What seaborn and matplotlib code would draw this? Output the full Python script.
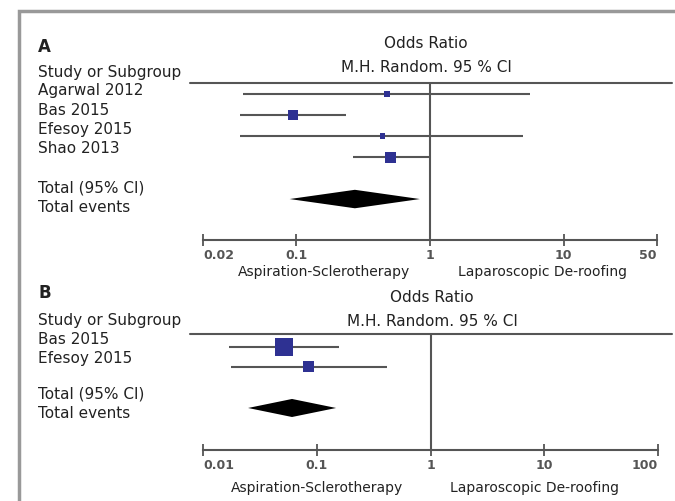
import numpy as np
import pandas as pd
import seaborn as sns
import matplotlib.pyplot as plt
from matplotlib.patches import Rectangle
from matplotlib.ticker import NullLocator

# Panel A data (odds ratio, 95% CI, weight %)
studies_a = ["Agarwal 2012", "Bas 2015", "Efesoy 2015", "Shao 2013"]
or_a = [0.48, 0.094, 0.44, 0.51]
lo_a = [0.040, 0.038, 0.038, 0.264]
hi_a = [5.6, 0.234, 4.97, 1.0]
weight_a = [12.5, 34.8, 10.5, 42.2]
total_a = [0.089, 0.274, 0.84]   # low, estimate, high
ticks_a = [0.02, 0.1, 1, 10, 50]
ticklabels_a = ["0.02", "0.1", "1", "10", "50"]

# Panel B data
studies_b = ["Bas 2015", "Efesoy 2015"]
or_b = [0.0515, 0.0846]
lo_b = [0.0169, 0.0176]
hi_b = [0.157, 0.415]
weight_b = [72.8, 27.2]
total_b = [0.0249, 0.0606, 0.148]
ticks_b = [0.01, 0.1, 1, 10, 100]
ticklabels_b = ["0.01", "0.1", "1", "10", "100"]

sns.set_style("white")
plt.rcParams['font.family'] = ['DejaVu Sans']

W, H = 675, 501
fig = plt.figure(figsize=(W / 100, H / 100), dpi=100)

line_c = "#555555"
blue = "#2e3192"
txt_c = "#222222"


def fx(x):
    return x / W


def fy(y):
    return 1 - y / H


def forest(ax, studies, est, lo, hi, weight, total, max_side, ticks, ticklabels, ylim, span):
    rows = np.arange(len(studies))
    total_row = len(studies) + 1
    df = pd.DataFrame({"est": est, "row": rows, "weight": weight})
    ax.set_xscale("log")
    ax.hlines(rows, lo, hi, color=line_c, lw=1.5, zorder=2)
    max_area = (max_side * 0.72) ** 2
    sizes = {w: max_area * w / max(weight) for w in weight}
    sns.scatterplot(data=df, x="est", y="row", size="weight", sizes=sizes, marker="s",
                    color=blue, linewidth=0, legend=False, ax=ax, zorder=3)
    # pooled diamond
    h = 0.44
    ax.fill([total[0], total[1], total[2], total[1]],
            [total_row, total_row - h, total_row, total_row + h], color="black", lw=0, zorder=3)
    ax.axvline(1, color=line_c, lw=1.5, zorder=1)
    ax.plot(span, [1, 1], transform=ax.transAxes, color=line_c, lw=1.5, clip_on=False)
    ax.set_xlim(ticks[0], ticks[-1])
    ax.set_ylim(*ylim)
    ax.set_xlabel("")
    ax.set_ylabel("")
    ax.set_yticks([])
    ax.set_xticks(ticks)
    ax.set_xticklabels(ticklabels)
    ax.xaxis.set_minor_locator(NullLocator())
    ax.tick_params(axis="x", direction="inout", length=9, width=1.3, color=line_c,
                   labelsize=9, labelcolor="#555555", pad=2, bottom=True)
    labels = ax.get_xticklabels()
    for lbl in labels:
        lbl.set_fontweight("bold")
    labels[0].set_ha("left")
    labels[-1].set_ha("right")
    sns.despine(ax=ax, left=True)
    ax.spines["bottom"].set_color(line_c)
    ax.spines["bottom"].set_linewidth(1.5)
    ax.patch.set_alpha(0)


ax_a = fig.add_axes([fx(203), fy(240), fx(657 - 203), (240 - 83) / H])
forest(ax_a, studies_a, or_a, lo_a, hi_a, weight_a, total_a, 11, ticks_a, ticklabels_a,
       (6.95, -0.524), [-0.0286, 1.033])

ax_b = fig.add_axes([fx(203), fy(450), fx(658 - 203), (450 - 334) / H])
forest(ax_b, studies_b, or_b, lo_b, hi_b, weight_b, total_b, 18, ticks_b, ticklabels_b,
       (5.05, -0.61), [-0.0286, 1.031])

# frame
fig.patches.append(Rectangle((fx(18.5), -0.1), 1.2, fy(10.5) + 0.1, transform=fig.transFigure,
                             fill=False, edgecolor="#999999", lw=2.5))

# left column texts
fs = 11
fig.text(fx(38), fy(47), "A", fontsize=12, fontweight="bold", color=txt_c, va="center")
fig.text(fx(38), fy(73), "Study or Subgroup", fontsize=fs, color=txt_c, va="center")
for i, s in enumerate(studies_a):
    fig.text(fx(38), fy(91 + i * 19.3), s, fontsize=fs, color=txt_c, va="center")
fig.text(fx(38), fy(188), "Total (95% CI)", fontsize=fs, color=txt_c, va="center")
fig.text(fx(38), fy(207), "Total events", fontsize=fs, color=txt_c, va="center")

fig.text(fx(38), fy(293), "B", fontsize=12, fontweight="bold", color=txt_c, va="center")
fig.text(fx(38), fy(321), "Study or Subgroup", fontsize=fs, color=txt_c, va="center")
for i, s in enumerate(studies_b):
    fig.text(fx(38), fy(339 + i * 19), s, fontsize=fs, color=txt_c, va="center")
fig.text(fx(38), fy(394), "Total (95% CI)", fontsize=fs, color=txt_c, va="center")
fig.text(fx(38), fy(413), "Total events", fontsize=fs, color=txt_c, va="center")

# headers
fig.text(fx(426), fy(43), "Odds Ratio", fontsize=fs, color=txt_c, ha="center", va="center")
fig.text(fx(426), fy(67), "M.H. Random. 95 % CI", fontsize=fs, color=txt_c, ha="center", va="center")
fig.text(fx(432), fy(298), "Odds Ratio", fontsize=fs, color=txt_c, ha="center", va="center")
fig.text(fx(432), fy(322), "M.H. Random. 95 % CI", fontsize=fs, color=txt_c, ha="center", va="center")

# favour labels
fig.text(fx(324), fy(272), "Aspiration-Sclerotherapy", fontsize=10, color=txt_c, ha="center", va="center")
fig.text(fx(542), fy(272), "Laparoscopic De-roofing", fontsize=10, color=txt_c, ha="center", va="center")
fig.text(fx(317), fy(488), "Aspiration-Sclerotherapy", fontsize=10, color=txt_c, ha="center", va="center")
fig.text(fx(535), fy(488), "Laparoscopic De-roofing", fontsize=10, color=txt_c, ha="center", va="center")

fig.savefig("out.png", dpi=100)
